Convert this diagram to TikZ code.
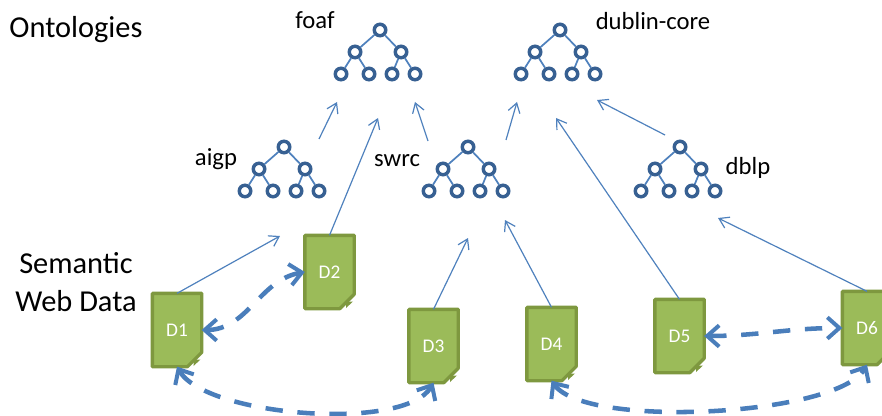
\documentclass[tikz,border=0pt]{standalone}
\usepackage{fontspec}
\setmainfont{Carlito}
\usepackage{tikz}
\usetikzlibrary{positioning,shapes.misc,calc,arrows.meta}

\definecolor{treeblue}{HTML}{376092}
\definecolor{linkblue}{HTML}{4F81BD}
\definecolor{dataedgeblue}{HTML}{4A7EBB}
\definecolor{docgreen}{HTML}{9BBB59}
\definecolor{docborder}{HTML}{7E983F}

\begin{document}
\begin{tikzpicture}[x=0.75pt,y=0.75pt]
		\tikzset{treenode/.style={draw=treeblue,circle,fill=white,line width=2.6pt,minimum size=8.6pt,inner sep=0pt,outer sep=1.3pt}}
		\tikzset{treeedge/.style={-,draw=linkblue,line width=1.3pt}}
		\tikzset{linkedge/.style={-{Straight Barb[length=7pt,width=9pt,line width=0.9pt]},draw=linkblue,line width=0.9pt}}
		\tikzset{dataedge/.style={{Straight Barb[length=9pt,width=16pt,line width=3pt]}-{Straight Barb[length=9pt,width=16pt,line width=3pt]},draw=dataedgeblue,line width=3.4pt,dash pattern=on 13pt off 11pt}}
		\tikzset{docnode/.style={draw=docborder,fill=docgreen,line width=2.5pt,line join=round,text=white,font=\fontsize{14.5}{17}\selectfont,chamfered rectangle,chamfered rectangle corners=south east,chamfered rectangle xsep=6pt,chamfered rectangle ysep=6pt,minimum width=37pt,minimum height=55pt,inner sep=0pt,outer sep=0pt}}
		\tikzset{biglabel/.style={font=\fontsize{22.8}{28.5}\selectfont,align=center,inner sep=0pt}}
		\tikzset{treelabel/.style={font=\fontsize{18.5}{22}\selectfont,inner sep=0pt}}
		
		\useasboundingbox (0,0) rectangle (882,415);
		
		\newcommand\drawTree[3] % {x} {y} {name}
		{
			\node[treenode] at (#1, #2) (#3) {};
			\node[treenode] at (#1-25, #2-22) (#3L) {};
			\node[treenode] at (#1+21, #2-22) (#3R) {};
			\node[treenode] at (#1-39, #2-44) (#3LL) {};
			\node[treenode] at (#1-11, #2-44) (#3LR) {};
			\node[treenode] at (#1+12, #2-44) (#3RL) {};
			\node[treenode] at (#1+35, #2-44) (#3RR) {};
			\draw[treeedge]
			(#3) to (#3L)
			(#3) to (#3R)
			(#3L) to (#3LL)
			(#3L) to (#3LR)
			(#3R) to (#3RL)
			(#3R) to (#3RR);
		}
		
		\newcommand\drawDoc[4] % {x} {y} {label} {name}
		{
			\node[docnode] at (#1, #2) (#4) {#3};
			\fill[docborder]
			(#1+23.5, #2-29.5) -- (#1+16.5, #2-36) -- (#1+16.5, #2-29.5) -- cycle;
		}
		
		\node[biglabel] at (76,385) (ontologies) {Ontologies};
		\node[biglabel] at (76,133) (semanticdata) {Semantic\\Web Data};
		
		\drawTree{380}{385}{foaf}
		\drawTree{560}{385}{dublin}
		\drawTree{284}{268}{aigp}
		\drawTree{468}{268}{swrc}
		\drawTree{680}{268}{dblp}
		
		\node[treelabel] at (315,395) (foaflabel) {foaf};
		\node[treelabel] at (653,394) (dublinlabel) {dublin-core};
		\node[treelabel] at (216,256) (aigplabel) {aigp};
		\node[treelabel] at (397,254) (swrclabel) {swrc};
		\node[treelabel] at (748,247) (dblplabel) {dblp};
		
		\drawDoc{177}{85}{D1}{d1}
		\drawDoc{329.5}{143}{D2}{d2}
		\drawDoc{433.5}{69}{D3}{d3}
		\drawDoc{551.5}{71}{D4}{d4}
		\drawDoc{679.5}{79}{D5}{d5}
		\drawDoc{867}{87}{D6}{d6}
		
		\coordinate (aigpfrom) at (319,276);
		\coordinate (aigpto) at (337,313);
		\coordinate (swrcfoaffrom) at (428,274);
		\coordinate (swrcfoafto) at (415,313);
		\coordinate (swrcdublinfrom) at (506,275);
		\coordinate (swrcdublinto) at (517,313);
		\coordinate (dblpfrom) at (665,280);
		\coordinate (dblpto) at (597,315);
		\coordinate (d1to) at (280,179);
		\coordinate (d2to) at (378,297);
		\coordinate (d3to) at (468,177);
		\coordinate (d4to) at (505,195);
		\coordinate (d5to) at (556,297);
		\coordinate (d6to) at (718,197);
		
		\draw[linkedge]
		(aigpfrom) to (aigpto);
		\draw[linkedge]
		(swrcfoaffrom) to (swrcfoafto);
		\draw[linkedge]
		(swrcdublinfrom) to (swrcdublinto);
		\draw[linkedge]
		(dblpfrom) to (dblpto);
		\draw[linkedge]
		(d1.north) to (d1to);
		\draw[linkedge]
		(d2.north) to (d2to);
		\draw[linkedge]
		(d3.north) to (d3to);
		\draw[linkedge]
		(d4.north) to (d4to);
		\draw[linkedge]
		(d5.north) to (d5to);
		\draw[linkedge]
		(d6.north) to (d6to);
		
		\draw[dataedge]
		(d1.east) to[out=0, in=190] (d2.west);
		\draw[dataedge]
		(d5.east) to[out=0, in=180] (d6.west);
		\draw[dataedge]
		(d1.south) to[out=-60, in=-120, looseness=0.57] (d3.south);
		\draw[dataedge]
		(d4.south) to[out=-55, in=-120, looseness=0.48] (d6.south);
		
		\end{tikzpicture}
\end{document}
